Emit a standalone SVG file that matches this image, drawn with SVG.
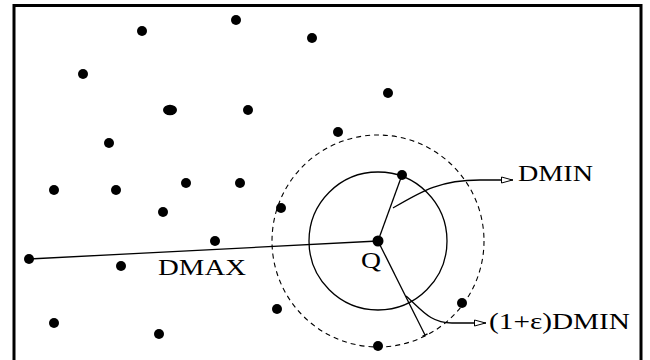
<svg xmlns="http://www.w3.org/2000/svg" width="650" height="360" viewBox="0 0 650 360">
<style>
.dot{fill:#000}
.ln{stroke:#000;stroke-width:1.3;fill:none}
.lbl{font-family:"Liberation Serif","Times New Roman",serif;font-size:23px;fill:#000}
</style>
<defs>
<marker id="oa" viewBox="0 0 12 8" refX="12" refY="4" markerWidth="12" markerHeight="8" markerUnits="userSpaceOnUse" orient="auto">
<path d="M0.5,1 L11.5,4 L0.5,7 Z" fill="#fff" stroke="#000" stroke-width="1"/>
</marker>
</defs>
<rect width="650" height="360" fill="#fff"/>
<rect x="14" y="5.5" width="627" height="360" fill="none" stroke="#000" stroke-width="3"/>
<g id="circles">
<circle cx="378" cy="241" r="69" class="ln" stroke-width="1.2"/>
<circle cx="378" cy="241" r="106" fill="none" stroke="#000" stroke-width="1.1" stroke-dasharray="5,4"/>
</g>
<g id="connectors">
<line x1="29" y1="259" x2="378" y2="241" class="ln"/>
<line x1="378" y1="241" x2="402" y2="175" class="ln"/>
<line x1="378" y1="241" x2="425" y2="335" class="ln"/>
<line x1="422.5" y1="336.3" x2="427.5" y2="333.8" class="ln" stroke-width="1"/>
<path d="M393,208 C422,191 440,180 480,180 L513,180" class="ln" stroke-width="1.1" marker-end="url(#oa)"/>
<path d="M406,296 C422,310 430,323 452,323 L486,323" class="ln" stroke-width="1.1" marker-end="url(#oa)"/>
</g>
<g id="points">
<circle class="dot" cx="236" cy="20" r="5"/>
<circle class="dot" cx="142" cy="31" r="5"/>
<circle class="dot" cx="312" cy="38" r="5"/>
<circle class="dot" cx="83" cy="74" r="5"/>
<circle class="dot" cx="388" cy="93" r="5"/>
<ellipse class="dot" cx="170" cy="110" rx="7" ry="5.3"/>
<circle class="dot" cx="248" cy="110" r="5"/>
<circle class="dot" cx="338" cy="132" r="5"/>
<circle class="dot" cx="109" cy="143" r="5"/>
<circle class="dot" cx="402" cy="175" r="5"/>
<circle class="dot" cx="186" cy="183" r="5"/>
<circle class="dot" cx="240" cy="183" r="5"/>
<circle class="dot" cx="54" cy="190" r="5"/>
<circle class="dot" cx="116" cy="190" r="5"/>
<circle class="dot" cx="281" cy="208" r="5"/>
<circle class="dot" cx="163" cy="212" r="5"/>
<circle class="dot" cx="215" cy="241" r="5"/>
<circle class="dot" cx="29" cy="259" r="5"/>
<circle class="dot" cx="121" cy="266" r="5"/>
<circle class="dot" cx="462" cy="303" r="5"/>
<circle class="dot" cx="277" cy="309" r="5"/>
<circle class="dot" cx="54" cy="323" r="5"/>
<circle class="dot" cx="159" cy="334" r="5"/>
<circle class="dot" cx="378" cy="346" r="5"/>
</g>
<g id="node-Q">
<circle class="dot" cx="378" cy="241" r="5.5"/>
<text class="lbl" x="361" y="268" textLength="20" lengthAdjust="spacingAndGlyphs">Q</text>
</g>
<g id="label-DMAX"><text class="lbl" x="158" y="275" textLength="88" lengthAdjust="spacingAndGlyphs">DMAX</text></g>
<g id="label-DMIN"><text class="lbl" x="518" y="181" textLength="75" lengthAdjust="spacingAndGlyphs">DMIN</text></g>
<g id="label-eps"><text class="lbl" x="489" y="329" textLength="141" lengthAdjust="spacingAndGlyphs">(1+ε)DMIN</text></g>
</svg>
